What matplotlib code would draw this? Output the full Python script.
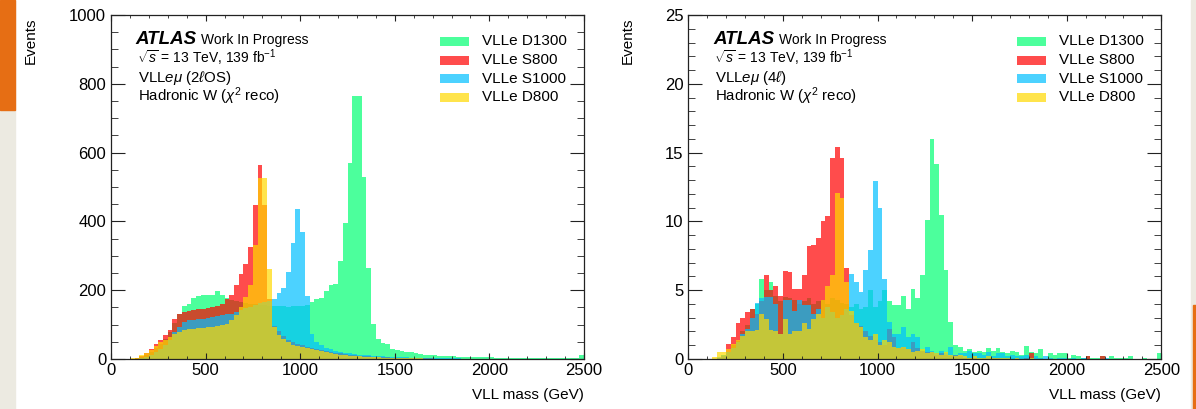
import numpy as np
import matplotlib
matplotlib.use('Agg')
from matplotlib import pyplot as plt
from matplotlib.patches import Rectangle
from matplotlib.ticker import MultipleLocator

plt.rcParams['font.family'] = ['Liberation Sans', 'DejaVu Sans']
plt.rcParams['mathtext.fontset'] = 'custom'
plt.rcParams['mathtext.rm'] = 'Liberation Sans'
plt.rcParams['mathtext.it'] = 'Liberation Sans:italic'
plt.rcParams['mathtext.bf'] = 'Liberation Sans:bold'

# 100 bins of 25 GeV from 0 to 2500
edges = np.linspace(0, 2500, 101)

samples = ['VLLe D1300', 'VLLe S800', 'VLLe S1000', 'VLLe D800']
colors = [(0.0, 1.0, 0.45), (1.0, 0.0, 0.0), (0.0, 0.75, 1.0), (1.0, 0.85, 0.0)]

# left panel: 2lOS
d1300_2l = [0, 0, 0, 0, 0, 2, 5, 12, 20, 33,
            45, 58, 78, 105, 130, 153, 159, 176, 183, 186,
            185, 185, 198, 185, 178, 172, 168, 165, 163, 161,
            160, 158, 157, 155, 155, 153, 153, 152, 153, 153,
            155, 156, 166, 175, 178, 198, 214, 219, 285, 394,
            571, 764, 764, 528, 264, 103, 59, 47, 43, 30,
            27, 23, 20, 20, 18, 15, 13, 12, 11, 10,
            9, 8, 8, 7, 7, 6, 6, 5, 5, 5,
            5, 4, 4, 4, 4, 3, 3, 3, 3, 3,
            3, 3, 2, 2, 2, 2, 2, 2, 2, 13]
s800_2l = [0, 0, 0, 0, 0, 2, 8, 16, 28, 43,
           56, 71, 83, 117, 132, 137, 139, 142, 144, 146,
           148, 150, 153, 161, 173, 185, 214, 248, 277, 326,
           447, 564, 447, 175, 95, 80, 66, 56, 50, 45,
           40, 36, 32, 28, 25, 22, 20, 18, 16, 14,
           12, 11, 10, 9, 8, 7, 6, 5, 5, 4,
           4, 3, 3, 3, 2, 2, 2, 2, 1, 1,
           1, 1, 1, 1, 1, 1, 1, 0, 0, 0,
           0, 0, 0, 0, 0, 0, 0, 0, 0, 0,
           0, 0, 0, 0, 0, 0, 0, 0, 0, 0]
s1000_2l = [0, 0, 0, 0, 0, 1, 3, 6, 12, 20,
            30, 42, 55, 79, 93, 108, 112, 114, 116, 117,
            119, 121, 125, 127, 130, 132, 138, 142, 148, 152,
            158, 162, 165, 168, 175, 192, 205, 252, 338, 435,
            369, 184, 74, 50, 40, 33, 28, 24, 20, 18,
            16, 14, 13, 12, 11, 10, 9, 8, 7, 7,
            6, 5, 5, 4, 4, 4, 3, 3, 3, 2,
            2, 2, 2, 2, 1, 1, 1, 1, 1, 1,
            1, 1, 1, 1, 0, 0, 0, 0, 0, 0,
            0, 0, 0, 0, 0, 0, 0, 0, 0, 0]
d800_2l = [0, 0, 0, 0, 2, 3, 11, 17, 27, 38,
           48, 56, 64, 72, 79, 85, 87, 88, 90, 91,
           93, 94, 96, 98, 102, 112, 128, 150, 180, 215,
           330, 525, 525, 263, 93, 70, 57, 48, 42, 38,
           35, 32, 28, 25, 22, 20, 17, 15, 13, 11,
           10, 9, 8, 7, 6, 5, 5, 4, 4, 3,
           3, 3, 2, 2, 2, 2, 1, 1, 1, 1,
           1, 1, 1, 1, 1, 0, 0, 0, 0, 0,
           0, 0, 0, 0, 0, 0, 0, 0, 0, 0,
           0, 0, 0, 0, 0, 0, 0, 0, 0, 0]

# right panel: 4l
d1300_4l = [0, 0, 0, 0, 0, 0, 0.1, 0.3, 0.5, 1.0,
            1.3, 2.0, 2.5, 3.6, 4.0, 5.8, 5.0, 5.6, 4.6, 4.2,
            4.5, 4.4, 4.3, 4.0, 4.2, 4.4, 4.0, 4.2, 4.3, 4.0,
            4.4, 4.3, 4.1, 4.0, 3.8, 4.0, 3.6, 3.8, 5.0, 3.8,
            4.2, 5.0, 4.25, 3.9, 3.9, 4.6, 3.6, 5.1, 4.4, 6.1,
            10.1, 16.0, 14.2, 10.5, 6.5, 2.7, 1.0, 0.9, 0.6, 0.75,
            0.5, 0.6, 0.5, 0.8, 0.6, 0.8, 0.5, 0.4, 0.6, 0.5,
            0.3, 0.95, 0.5, 0.4, 0.7, 0.0, 0.4, 0.3, 0.4, 0.4,
            0.1, 0.3, 0.25, 0.1, 0.2, 0.1, 0.1, 0.2, 0.0, 0.2,
            0.1, 0.1, 0.1, 0.25, 0.0, 0.0, 0.1, 0.0, 0.0, 0.4]
s800_4l = [0, 0, 0, 0, 0, 0, 0.1, 0.2, 1.1, 1.6,
           2.6, 3.0, 3.4, 3.6, 3.3, 4.2, 6.1, 5.0, 5.3, 4.6,
           6.4, 6.3, 5.1, 5.1, 6.1, 8.2, 8.3, 8.8, 10.0, 10.4,
           14.6, 15.4, 14.6, 6.6, 3.2, 2.6, 2.4, 2.0, 1.7, 1.4,
           1.2, 1.0, 2.2, 1.6, 0.8, 0.9, 0.7, 1.2, 0.8, 0.6,
           0.5, 0.5, 0.3, 0.4, 0.3, 0.2, 0.3, 0.2, 0.1, 0.1,
           0.1, 0, 0.1, 0, 0.1, 0.1, 0, 0, 0, 0,
           0, 0.1, 0.4, 0, 0, 0, 0, 0, 0, 0,
           0, 0, 0, 0, 0.2, 0, 0, 0.2, 0, 0,
           0, 0, 0, 0, 0, 0, 0, 0, 0, 0]
s1000_4l = [0, 0, 0, 0, 0, 0, 0.15, 0.3, 0.5, 0.8,
            1.2, 1.8, 2.2, 3.0, 4.1, 4.4, 4.5, 4.5, 4.0, 1.8,
            4.3, 4.3, 3.5, 4.3, 3.9, 3.9, 3.3, 3.6, 3.0, 3.8,
            3.4, 3.0, 3.2, 3.6, 6.2, 5.6, 4.9, 6.5, 7.9, 12.9,
            11.0, 5.8, 2.7, 1.8, 1.8, 2.3, 1.6, 1.8, 1.6, 0.6,
            0.9, 0.6, 0.4, 0.6, 0.4, 0.9, 0.3, 0.4, 0.4, 0.6,
            0.4, 0.4, 0.3, 0.5, 0.2, 0.4, 0.4, 0.2, 0.3, 0.2,
            0.2, 0.3, 0.1, 0.2, 0.1, 0.2, 0.1, 0, 0.1, 0.1,
            0, 0.1, 0, 0.1, 0, 0, 0, 0, 0.1, 0,
            0, 0, 0, 0, 0, 0, 0, 0, 0, 0]
d800_4l = [0, 0, 0, 0, 0, 0.15, 0.5, 0.5, 0.75, 1.1,
           1.4, 1.7, 2.0, 2.0, 2.1, 3.3, 2.9, 2.1, 2.0, 1.8,
           2.9, 1.8, 2.0, 2.0, 2.6, 2.2, 2.9, 3.3, 4.3, 5.3,
           6.1, 12.1, 11.7, 5.6, 3.5, 2.6, 2.3, 1.6, 1.35, 1.8,
           1.0, 1.4, 1.2, 0.9, 0.8, 0.9, 0.7, 0.5, 0.6, 0.7,
           0.4, 0.5, 0.4, 0.3, 0.5, 0.3, 0.2, 0.3, 0.2, 0.1,
           0.2, 0.1, 0.1, 0.2, 0.1, 0.1, 0.1, 0.1, 0.0, 0.1,
           0, 0, 0.1, 0, 0, 0, 0, 0, 0, 0,
           0, 0, 0, 0, 0, 0, 0, 0, 0, 0,
           0, 0, 0, 0, 0, 0, 0, 0, 0, 0]

panels = [
    {'hists': [d1300_2l, s800_2l, s1000_2l, d800_2l], 'ymax': 1000, 'major': 200, 'minor': 50,
     'channel': r'VLL$e\mu$ (2$\ell$OS)', 'left': 111, 'ylab_x': -0.154},
    {'hists': [d1300_4l, s800_4l, s1000_4l, d800_4l], 'ymax': 25, 'major': 5, 'minor': 1,
     'channel': r'VLL$e\mu$ (4$\ell$)', 'left': 688.3, 'ylab_x': -0.113},
]

W, H = 1196, 409
fig = plt.figure(figsize=(W / 100, H / 100), dpi=100)

# slide background strips at the edges
fig.patches.append(Rectangle((0, 0), 15 / W, 1, transform=fig.transFigure, color='#eceae1', zorder=-5))
fig.patches.append(Rectangle((0, 1 - 110 / H), 15 / W, 110 / H, transform=fig.transFigure, color='#e66e14', zorder=-4))
fig.patches.append(Rectangle((1191 / W, 0), 5 / W, 1, transform=fig.transFigure, color='#eceae1', zorder=-5))
fig.patches.append(Rectangle((1193 / W, 0), 3 / W, 1 - 305 / H, transform=fig.transFigure, color='#e66e14', zorder=-4))

ax_w, ax_h = 473, 344
ax_top = 15
for p in panels:
    ax = fig.add_axes([p['left'] / W, (H - ax_top - ax_h) / H, ax_w / W, ax_h / H])

    #overlaid (not stacked) transparent histograms, drawn in legend order
    for vals, col in zip(p['hists'], colors):
        ax.stairs(vals, edges, fill=True, color=col, alpha=0.7, linewidth=0)

    ax.set_xlim(0, 2500)
    ax.set_ylim(0, p['ymax'])
    ax.xaxis.set_major_locator(MultipleLocator(500))
    ax.xaxis.set_minor_locator(MultipleLocator(100))
    ax.yaxis.set_major_locator(MultipleLocator(p['major']))
    ax.yaxis.set_minor_locator(MultipleLocator(p['minor']))
    ax.tick_params(which='both', direction='in', top=True, right=True, labelsize=12, color='#222222')
    ax.tick_params(axis='x', which='major', length=4.5, pad=3)
    ax.tick_params(axis='x', which='minor', length=2.5)
    ax.tick_params(axis='y', which='major', length=10, pad=3.5)
    ax.tick_params(axis='y', which='minor', length=5)
    for s in ax.spines.values():
        s.set_linewidth(0.9)
        s.set_color('#222222')

    ax.text(1.0, -0.084, 'VLL mass (GeV)', transform=ax.transAxes, ha='right', va='top', fontsize=11)
    ax.text(p['ylab_x'], 0.994, 'Events', transform=ax.transAxes, rotation=90, ha='right', va='top', fontsize=11)

    tx = 0.052
    ax.text(tx, 0.9157, 'ATLAS', transform=ax.transAxes, fontsize=13.5, fontweight='bold', fontstyle='italic', va='baseline')
    ax.text(0.191, 0.9157, 'Work In Progress', transform=ax.transAxes, fontsize=10, va='baseline')
    ax.text(tx + 0.003, 0.859, r'$\sqrt{s}$ = 13 TeV, 139 fb$^{-1}$', transform=ax.transAxes, fontsize=10, va='baseline')
    ax.text(tx + 0.005, 0.805, p['channel'], transform=ax.transAxes, fontsize=10.8, va='baseline')
    ax.text(tx + 0.005, 0.75, r'Hadronic W ($\chi^{2}$ reco)', transform=ax.transAxes, fontsize=10.8, va='baseline')

    # legend boxes
    row_y = [0.9235, 0.869, 0.815, 0.761]
    for name, col, y in zip(samples, colors, row_y):
        ax.add_patch(Rectangle((0.6956, y - 0.013), 0.0613, 0.026, transform=ax.transAxes,
                               color=col, alpha=0.7, linewidth=0))
        ax.text(0.784, y, name, transform=ax.transAxes, fontsize=11, va='center')

fig.savefig('out.png', dpi=100)
